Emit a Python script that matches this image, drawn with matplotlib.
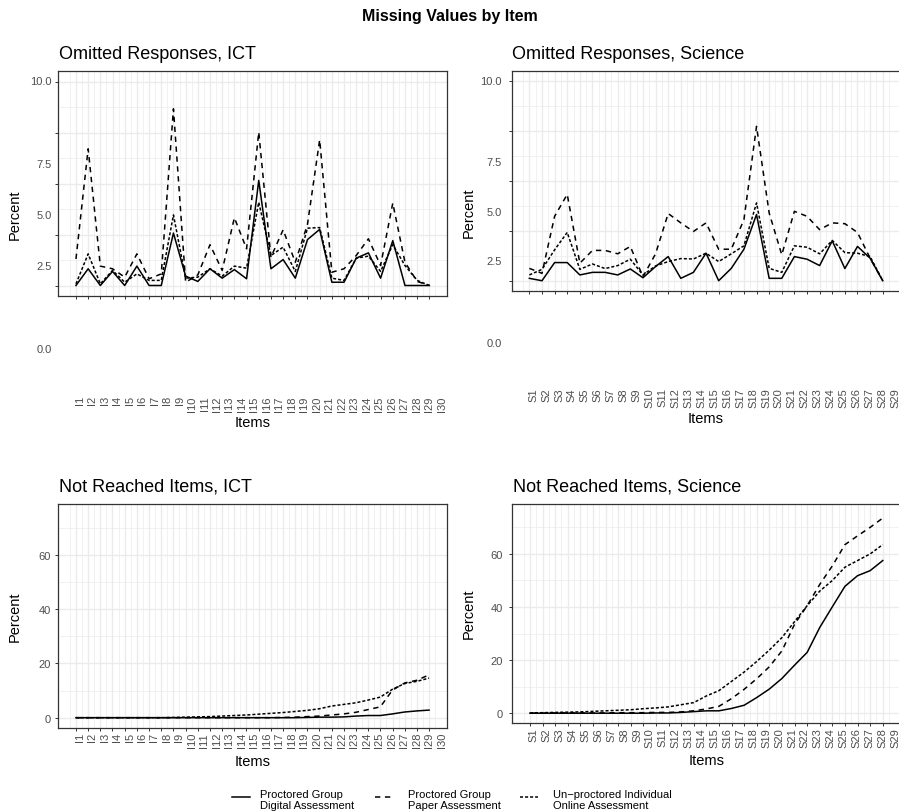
import numpy as np
import matplotlib
matplotlib.use("Agg")
import matplotlib.pyplot as plt
from matplotlib.lines import Line2D
from matplotlib import transforms

W, H = 899, 812
plt.rcParams["font.family"] = ["Liberation Sans", "DejaVu Sans"]

# ---- data (percent per item) ----
ict_items = [f"I{i}" for i in range(1, 31)]
sci_items = [f"S{i}" for i in range(1, 30)]

series_names = ["Proctored Group\nDigital Assessment",
                "Proctored Group\nPaper Assessment",
                "Un\u2212proctored Individual\nOnline Assessment"]

omit_ict_digital = [0.0, 0.82, 0.0, 0.69, 0.0, 0.95, 0.0, 0.0, 2.57, 0.46, 0.2, 0.82, 0.36, 0.78, 0.33,
                    5.15, 0.82, 1.27, 0.36, 2.25, 2.75, 0.16, 0.16, 1.34, 1.6, 0.36, 2.2, 0.0, 0.0, 0.0]
omit_ict_paper = [1.3, 6.7, 0.95, 0.82, 0.41, 1.55, 0.33, 0.57, 8.66, 0.16, 0.52, 2.0, 0.74, 3.32, 1.8,
                  7.52, 1.39, 2.73, 1.14, 3.0, 7.14, 0.65, 0.82, 1.47, 2.29, 0.98, 4.04, 1.14, 0.2, 0.0]
omit_ict_online = [0.08, 1.55, 0.08, 0.74, 0.16, 0.57, 0.25, 0.25, 3.46, 0.36, 0.41, 0.82, 0.46, 0.95, 0.85,
                   4.08, 1.47, 1.88, 0.69, 2.81, 2.84, 0.36, 0.25, 1.34, 1.44, 0.69, 2.0, 0.98, 0.25, 0.0]

omit_sci_digital = [0.12, 0.0, 0.91, 0.91, 0.29, 0.42, 0.42, 0.29, 0.59, 0.15, 0.71, 1.21, 0.12, 0.42, 1.38,
                    0.0, 0.62, 1.58, 3.32, 0.12, 0.12, 1.21, 1.08, 0.76, 2.0, 0.61, 1.72, 1.13, 0.0]
omit_sci_paper = [0.62, 0.37, 3.23, 4.33, 0.88, 1.52, 1.52, 1.35, 1.72, 0.2, 1.35, 3.37, 2.9, 2.47, 2.9,
                  1.58, 1.58, 3.06, 7.74, 3.4, 1.3, 3.48, 3.23, 2.56, 2.9, 2.86, 2.42, 1.13, 0.0]
omit_sci_online = [0.29, 0.57, 1.55, 2.42, 0.57, 0.84, 0.61, 0.76, 1.08, 0.29, 0.74, 0.96, 1.11, 1.09, 1.38,
                   0.96, 1.35, 1.75, 3.9, 0.62, 0.42, 1.75, 1.68, 1.35, 2.02, 1.41, 1.38, 1.21, 0.0]

nr_ict_digital = [0.0, 0.0, 0.0, 0.0, 0.0, 0.0, 0.0, 0.0, 0.0, 0.0, 0.0, 0.0, 0.0, 0.0, 0.0,
                  0.0, 0.0, 0.0, 0.0, 0.1, 0.2, 0.2, 0.3, 0.6, 0.8, 0.8, 1.4, 2.1, 2.5, 2.8]
nr_ict_paper = [0.0, 0.0, 0.0, 0.0, 0.0, 0.0, 0.0, 0.0, 0.0, 0.0, 0.0, 0.0, 0.0, 0.0, 0.0,
                0.0, 0.0, 0.1, 0.2, 0.4, 0.6, 1.0, 1.4, 2.0, 3.0, 4.0, 10.2, 12.8, 13.8, 15.8]
nr_ict_online = [0.0, 0.0, 0.0, 0.0, 0.0, 0.0, 0.0, 0.0, 0.1, 0.2, 0.3, 0.4, 0.6, 0.8, 1.0,
                 1.3, 1.6, 1.9, 2.3, 2.7, 3.3, 4.3, 4.9, 5.5, 6.5, 7.6, 10.5, 12.6, 13.4, 14.6]

nr_sci_digital = [0.0, 0.0, 0.0, 0.0, 0.0, 0.0, 0.0, 0.0, 0.0, 0.0, 0.1, 0.1, 0.3, 0.6, 0.9,
                  0.9, 1.8, 3.0, 5.9, 9.1, 13.1, 18.1, 22.9, 32.3, 40.1, 47.8, 51.8, 53.7, 57.5]
nr_sci_paper = [0.0, 0.0, 0.1, 0.1, 0.1, 0.1, 0.1, 0.2, 0.2, 0.2, 0.3, 0.3, 0.5, 0.9, 1.6,
                2.6, 5.5, 9.0, 13.0, 17.5, 23.5, 33.5, 40.5, 48.5, 55.5, 63.5, 66.8, 70.0, 73.5]
nr_sci_online = [0.1, 0.2, 0.3, 0.4, 0.5, 0.7, 0.9, 1.1, 1.3, 1.7, 2.0, 2.4, 3.2, 4.0, 6.5,
                 8.5, 12.0, 15.5, 19.5, 23.8, 28.5, 34.5, 40.5, 46.0, 50.0, 55.0, 57.5, 60.0, 63.5]

omit_ticks = [0, 2.5, 5, 7.5, 10]
omit_tick_labels = ["10.0", "7.5", "5.0", "2.5", "0.0"]
omit_label_pos = [10.0, 5.96, 3.45, 0.97, -3.1]   # where the labels sit in the reference
nr_ticks = [0, 20, 40, 60]

# ---- styling ----
line_styles = ["-", (0, (3.5, 3)), (0, (2, 1.3))]
GRID = "#EBEBEB"
TEXT_GRAY = "#4D4D4D"

fig = plt.figure(figsize=(W / 100, H / 100), dpi=100)


def add_panel(x0, y0, x1, y1):
    return fig.add_axes([x0 / W, 1 - y1 / H, (x1 - x0) / W, (y1 - y0) / H])


def fig_text(x, y, s, **kw):
    fig.text(x / W, 1 - y / H, s, **kw)


def draw_panel(ax, box, series, labels, ylim, yticks, yminor, lab_gap, ypad):
    n = len(labels)
    x = np.arange(1, n + 1)
    for vals, ls in zip(series, line_styles):
        ax.plot(x, vals, color="black", lw=1.1, linestyle=ls)

    exp = 0.05 * (n - 1)
    ax.set_xlim(1 - exp, n + exp)
    ax.set_ylim(*ylim)
    ax.set_xticks(x)
    ax.set_xticks(np.arange(0.5, n + 1, 1.0), minor=True)
    ax.set_yticks(yticks)
    ax.set_yticks(yminor, minor=True)
    ax.grid(which="major", color=GRID, lw=1.0)
    ax.grid(which="minor", color=GRID, lw=0.5)
    ax.set_axisbelow(True)
    for sp in ax.spines.values():
        sp.set_color("#333333")
        sp.set_linewidth(0.9)
    ax.tick_params(which="major", length=2.2, width=0.7, color="#333333",
                   labelsize=8, labelcolor=TEXT_GRAY, pad=ypad)
    ax.tick_params(which="minor", length=0)
    ax.tick_params(axis="x", labelbottom=False)

    # rotated item labels (spaced slightly wider than the ticks, as in the reference)
    h_px = box[3] - box[1]
    trans = transforms.blended_transform_factory(ax.transData, ax.transAxes)
    for i, lab in enumerate(labels):
        ax.text(1.3 + i * 1.025, -lab_gap / h_px, lab, transform=trans, rotation=90,
                ha="center", va="top", fontsize=8, color=TEXT_GRAY, clip_on=False)


panels = [
    dict(box=(58.3, 72.3, 447.0, 296.7), title="Omitted Responses, ICT", labels=ict_items,
         series=[omit_ict_digital, omit_ict_paper, omit_ict_online], omit=True,
         lab_gap=99.5, ypad_px=6.6, items_y=423, percent=(15, 215)),
    dict(box=(511.7, 72.3, 900.4, 291.7), title="Omitted Responses, Science", labels=sci_items,
         series=[omit_sci_digital, omit_sci_paper, omit_sci_online], omit=True,
         lab_gap=96.5, ypad_px=10.0, items_y=419, percent=(469, 213)),
    dict(box=(58.3, 505.0, 446.7, 729.0), title="Not Reached Items, ICT", labels=ict_items,
         series=[nr_ict_digital, nr_ict_paper, nr_ict_online], omit=False,
         lab_gap=4.0, ypad_px=7.6, items_y=762, percent=(15, 617)),
    dict(box=(512.3, 505.0, 900.4, 724.3), title="Not Reached Items, Science", labels=sci_items,
         series=[nr_sci_digital, nr_sci_paper, nr_sci_online], omit=False,
         lab_gap=4.0, ypad_px=9.0, items_y=761, percent=(469, 614)),
]

for p in panels:
    x0, y0, x1, y1 = p["box"]
    ax = add_panel(x0, y0, x1, y1)
    if p["omit"]:
        draw_panel(ax, p["box"], p["series"], p["labels"], (-0.5, 10.5), omit_ticks,
                   [1.25, 3.75, 6.25, 8.75], p["lab_gap"], 3)
        ax.tick_params(axis="y", labelleft=False)
        tr = transforms.blended_transform_factory(ax.transAxes, ax.transData)
        for lab, yv in zip(omit_tick_labels, omit_label_pos):
            ax.text(-p["ypad_px"] / (x1 - x0), yv, lab, transform=tr, ha="right", va="center",
                    fontsize=8, color=TEXT_GRAY, clip_on=False)
    else:
        draw_panel(ax, p["box"], p["series"], p["labels"], (-3.8, 78.8), nr_ticks,
                   [10, 30, 50, 70], p["lab_gap"], (p["ypad_px"] - 3) * 0.72)

    fig_text(x0 + 0.5, y0 - 17.5, p["title"], fontsize=13, ha="left", va="center", color="black")
    fig_text((x0 + x1) / 2, p["items_y"], "Items", fontsize=10.5, ha="center", va="center")
    fig_text(p["percent"][0], p["percent"][1], "Percent", fontsize=10.5, rotation=90,
             ha="center", va="center")

fig_text(450, 17, "Missing Values by Item", fontsize=11.5, fontweight="bold",
         ha="center", va="center")

# legend along the bottom
legend_text_x = [260, 407.7, 552.7]
legend_key_x = [(231.7, 250), (375, 392), (520, 538)]
for name, ls, tx, (k0, k1) in zip(series_names, line_styles, legend_text_x, legend_key_x):
    fig.add_artist(Line2D([k0 / W, k1 / W], [1 - 798 / H, 1 - 798 / H], transform=fig.transFigure,
                          color="black", lw=1.1, linestyle=ls))
    fig_text(tx, 800.5, name, fontsize=8, ha="left", va="center", color="black")

fig.savefig("out.png", dpi=100)
